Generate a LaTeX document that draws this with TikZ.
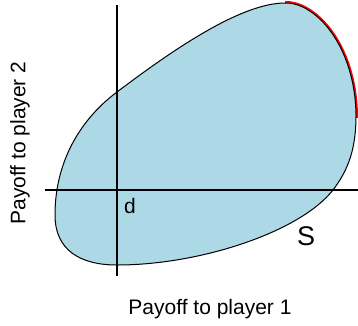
\documentclass[tikz,border=0pt]{standalone}
\usepackage{fontspec}
\setmainfont{Liberation Sans}
\definecolor{setblue}{RGB}{173,216,230}
\begin{document}
\begin{tikzpicture}[x=1pt, y=-1pt,
    axis/.style={black, line width=1.6pt},
    lbl/.style={font=\fontsize{21}{25}\selectfont}]
        \useasboundingbox (0,0) rectangle (358,325);
        % --- 1. The feasible set S ---
        \path[save path=\blobpath] (285,3)
            .. controls (315,2) and (355,45) .. (356,115)   % top to right
            .. controls (356,150) and (348,170) .. (333,190)
            .. controls (300,232) and (200,265) .. (117,265) % lower edge
            .. controls (80,265) and (55,250) .. (55,215)
            .. controls (55,160) and (82,118) .. (117,92)    % left side
            .. controls (170,52) and (240,3) .. (285,3)      % upper edge
            -- cycle;
        % Pareto frontier (red, upper right)
        \begin{scope}
            \clip (285,-5) rectangle (365,117);
            \draw[red, line width=4pt, use path=\blobpath];
        \end{scope}
        \filldraw[fill=setblue, draw=black, line width=1pt, use path=\blobpath];

        % --- 2. Axes through the disagreement point ---
        \coordinate (ytop) at (117,5);
        \coordinate (ybot) at (117,276);
        \coordinate (xleft) at (45,190);
        \coordinate (xright) at (358,190);
        \draw[axis] (ytop) -- (ybot);
        \draw[axis] (xleft) -- (xright);

        % Labels
        \node[font=\fontsize{21}{25}\selectfont] (dpt) at (130,206) {d};
        \node[font=\fontsize{27}{31}\selectfont] (setS) at (306,236) {S};
        \node[lbl] (xlabel) at (210,309) {Payoff to player 1};
        \node[lbl, rotate=90] (ylabel) at (20,143) {Payoff to player 2};
    \end{tikzpicture}
\end{document}
